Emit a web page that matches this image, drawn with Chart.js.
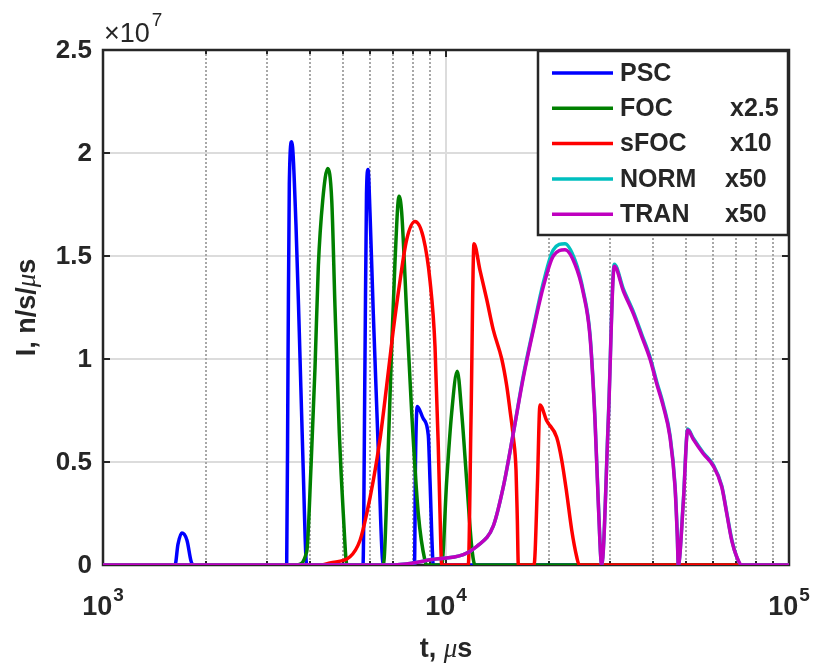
<!DOCTYPE html>
<html>
<head>
<meta charset="utf-8">
<script src="https://cdn.jsdelivr.net/npm/chart.js@4.4.1/dist/chart.umd.min.js"></script>
<style>
  body { margin: 0; background: #fff; }
  canvas { display: block; }
</style>
</head>
<body>
<canvas id="chart" width="817" height="666"></canvas>
<script>
// ===== Data (t in microseconds, I in n/s/us) =====
const seriesNames = ["PSC", "FOC", "sFOC", "NORM", "TRAN"];
const seriesScale = ["", "x2.5", "x10", "x50", "x50"];

const pscT = [1000, 1622, 1654, 1698, 1757, 1805, 1830, 3432, 3463, 3493, 3549, 3653, 3735, 3829, 3926,
  5728, 5805, 5864, 5924, 6004, 6138, 6344, 6564, 8094, 8148, 8247, 8586, 8879, 8982, 9146, 9180, 100000];
const pscI = [0, 0, 0.10e7, 0.155e7, 0.12e7, 0.02e7, 0, 0, 1.0e7, 1.85e7, 2.055e7, 1.65e7, 1.13e7, 0.5e7, 0,
  0, 1.0e7, 1.8e7, 1.92e7, 1.71e7, 1.22e7, 0.57e7, 0, 0, 0.5e7, 0.77e7, 0.71e7, 0.63e7, 0.41e7, 0.03e7, 0, 0];

const focT = [1000, 3670, 3926, 4041, 4151, 4244, 4371, 4520, 4644, 4747, 4886, 5018, 5145,
  6564, 6788, 6944, 7100, 7295, 7427, 7681, 7943, 8302, 8685, 8803,
  9716, 10047, 10389, 10787, 11110, 11490, 11882, 12146, 100000];
const focI = [0, 0, 0.065e7, 0.48e7, 0.96e7, 1.45e7, 1.77e7, 1.925e7, 1.77e7, 1.25e7, 0.64e7, 0.25e7, 0,
  0, 0.57e7, 1.06e7, 1.47e7, 1.79e7, 1.71e7, 1.22e7, 0.74e7, 0.25e7, 0.02e7, 0,
  0, 0.41e7, 0.74e7, 0.94e7, 0.74e7, 0.41e7, 0.09e7, 0, 0];

const sfocT = [1000, 4350, 4590, 5250, 5616, 5873, 6138, 6420, 6715, 7019, 7344, 7681, 8120, 8586, 8982, 9289, 9497, 9606, 9716,
  11614, 11826, 12067, 12564, 13142, 13742, 14540, 15032, 15370, 15713, 16001, 16142, 16251,
  18059, 18463, 18793, 19662, 21021, 21741, 22484, 23253, 24044, 24468, 100000];
const sfocI = [0, 0, 0.01e7, 0.04e7, 0.12e7, 0.25e7, 0.41e7, 0.61e7, 0.87e7, 1.14e7, 1.38e7, 1.58e7, 1.667e7, 1.59e7, 1.38e7, 1.06e7, 0.57e7, 0.25e7, 0,
  0, 0.70e7, 1.56e7, 1.43e7, 1.29e7, 1.14e7, 1.0e7, 0.87e7, 0.75e7, 0.62e7, 0.46e7, 0.22e7, 0,
  0, 0.38e7, 0.777e7, 0.70e7, 0.62e7, 0.51e7, 0.35e7, 0.17e7, 0.04e7, 0, 0];

// NORM and TRAN share the same time samples
const normTranT = [1000, 6866, 8030, 8982, 11233, 12290, 13742, 14695, 15713, 16807,
  17972, 19216, 20549, 22234, 23773, 25136, 26292, 27190, 27797, 28439,
  29730, 30953, 32885, 35165, 37206, 39332, 41140, 43000, 44985, 46514,
  47238, 47564, 49180, 50663, 52602, 56247, 60168, 63659, 65834, 68070,
  70395, 72800, 100000];
const normI = [0, 0, 0.01e7, 0.025e7, 0.05e7, 0.09e7, 0.19e7, 0.38e7, 0.64e7, 0.92e7,
  1.15e7, 1.37e7, 1.53e7, 1.56e7, 1.48e7, 1.33e7, 1.12e7, 0.71e7, 0.31e7, 0,
  0.71e7, 1.46e7, 1.34e7, 1.23e7, 1.12e7, 1.01e7, 0.89e7, 0.78e7, 0.63e7, 0.39e7,
  0.15e7, 0, 0.31e7, 0.66e7, 0.615e7, 0.545e7, 0.485e7, 0.385e7, 0.255e7, 0.125e7,
  0.04e7, 0, 0];
const tranI = [0, 0, 0.01e7, 0.025e7, 0.05e7, 0.09e7, 0.19e7, 0.38e7, 0.64e7, 0.91e7,
  1.14e7, 1.35e7, 1.50e7, 1.53e7, 1.46e7, 1.32e7, 1.11e7, 0.70e7, 0.30e7, 0,
  0.70e7, 1.45e7, 1.33e7, 1.22e7, 1.11e7, 1.0e7, 0.88e7, 0.77e7, 0.62e7, 0.38e7,
  0.14e7, 0, 0.30e7, 0.655e7, 0.61e7, 0.54e7, 0.48e7, 0.38e7, 0.25e7, 0.12e7,
  0.04e7, 0, 0];

// Axis ticks
const yTicks = [0, 0.5e7, 1e7, 1.5e7, 2e7, 2.5e7];
const yTickLabels = ["0", "0.5", "1", "1.5", "2", "2.5"];
const xMajorTicks = [1e3, 1e4, 1e5];
const xTickExps = ["3", "4", "5"];

// ===== Helpers =====
const TEXT = "#262626";
const SANS = '"Liberation Sans", Arial, sans-serif';

function pts(ts, vs) {
  return ts.map((t, i) => ({ x: t, y: vs[i] }));
}

function seg(ctx, x1, y1, x2, y2) {
  ctx.beginPath();
  ctx.moveTo(x1, y1);
  ctx.lineTo(x2, y2);
  ctx.stroke();
}

// draw a run of text pieces with different fonts, centred on cx
function drawRun(ctx, pieces, cx, cy) {
  let w = 0;
  pieces.forEach(p => { ctx.font = p.font; w += ctx.measureText(p.text).width; });
  let x = cx - w / 2;
  ctx.textAlign = "left";
  ctx.textBaseline = "middle";
  pieces.forEach(p => {
    ctx.font = p.font;
    ctx.fillText(p.text, x, cy);
    x += ctx.measureText(p.text).width;
  });
}

function minorTicks() {
  const out = [];
  [1e3, 1e4].forEach(d => { for (let k = 2; k <= 9; k++) out.push(k * d); });
  return out;
}

// ===== Axes, grid, labels and legend =====
const frame = {
  id: "frame",
  beforeDatasetsDraw(chart) {
    const { ctx, chartArea: a, scales: { x, y } } = chart;
    ctx.save();

    // horizontal grid
    ctx.strokeStyle = "#dcdcdc";
    ctx.lineWidth = 2;
    yTicks.forEach(v => {
      const py = Math.round(y.getPixelForValue(v));
      if (py > a.top + 2 && py < a.bottom - 2) seg(ctx, a.left, py, a.right, py);
    });
    // major vertical grid
    xMajorTicks.forEach(v => {
      const px = Math.round(x.getPixelForValue(v));
      if (px > a.left + 2 && px < a.right - 2) seg(ctx, px, a.top, px, a.bottom);
    });
    // minor vertical grid, dotted
    ctx.strokeStyle = "#a8a8a8";
    ctx.lineWidth = 2;
    ctx.setLineDash([2, 2]);
    minorTicks().forEach(v => {
      const px = Math.round(x.getPixelForValue(v));
      seg(ctx, px, a.top, px, a.bottom);
    });
    ctx.setLineDash([]);

    // box
    ctx.strokeStyle = TEXT;
    ctx.lineWidth = 2.5;
    ctx.strokeRect(a.left, a.top, a.right - a.left, a.bottom - a.top);

    // ticks (inward, on all four sides)
    ctx.lineWidth = 2;
    yTicks.forEach(v => {
      const py = Math.round(y.getPixelForValue(v));
      seg(ctx, a.left, py, a.left + 7, py);
      seg(ctx, a.right - 7, py, a.right, py);
    });
    xMajorTicks.forEach(v => {
      const px = Math.round(x.getPixelForValue(v));
      seg(ctx, px, a.bottom, px, a.bottom - 7);
      seg(ctx, px, a.top, px, a.top + 7);
    });
    minorTicks().forEach(v => {
      const px = Math.round(x.getPixelForValue(v));
      seg(ctx, px, a.bottom, px, a.bottom - 4);
      seg(ctx, px, a.top, px, a.top + 4);
    });

    // y tick labels
    ctx.fillStyle = TEXT;
    ctx.font = "bold 26px " + SANS;
    ctx.textAlign = "right";
    ctx.textBaseline = "middle";
    yTicks.forEach((v, i) => ctx.fillText(yTickLabels[i], a.left - 11, y.getPixelForValue(v) + 1));

    // x tick labels: 10^n
    xMajorTicks.forEach((v, i) => {
      const px = x.getPixelForValue(v);
      ctx.font = "bold 27px " + SANS;
      const wb = ctx.measureText("10").width;
      ctx.font = "bold 19px " + SANS;
      const we = ctx.measureText(xTickExps[i]).width;
      const left = px - (wb + we + 1) / 2;
      ctx.textAlign = "left";
      ctx.textBaseline = "alphabetic";
      ctx.font = "bold 27px " + SANS;
      ctx.fillText("10", left, 615);
      ctx.font = "bold 19px " + SANS;
      ctx.fillText(xTickExps[i], left + wb + 1, 601);
    });

    // exponent label above the y axis
    ctx.font = "27px " + SANS;
    ctx.textAlign = "left";
    ctx.textBaseline = "alphabetic";
    ctx.fillText("\u00d710", a.left + 1, 42);
    const wx = ctx.measureText("\u00d710").width;
    ctx.font = "19px " + SANS;
    ctx.fillText("7", a.left + 3 + wx, 26);

    // axis titles
    const bold = "bold 27px " + SANS;
    const mu = 'italic 27px "Liberation Serif", serif';
    drawRun(ctx, [
      { text: "t, ", font: bold }, { text: "\u03bc", font: mu }, { text: "s", font: bold }
    ], (a.left + a.right) / 2, 650);

    ctx.translate(28, (a.top + a.bottom) / 2);
    ctx.rotate(-Math.PI / 2);
    drawRun(ctx, [
      { text: "I, n/s/", font: bold }, { text: "\u03bc", font: mu }, { text: "s", font: bold }
    ], 0, 0);
    ctx.restore();
  },
  afterDatasetsDraw(chart) {
    const { ctx, chartArea: a } = chart;
    ctx.save();
    // legend box
    const bx = 538, by = a.top + 1, bw = a.right - bx - 1, bh = 184;
    ctx.fillStyle = "#fff";
    ctx.fillRect(bx, by, bw, bh);
    ctx.strokeStyle = TEXT;
    ctx.lineWidth = 2.5;
    ctx.strokeRect(bx, by, bw, bh);

    const scaleX = [0, 730, 730, 725, 725];
    chart.data.datasets.forEach((ds, i) => {
      const ry = 73 + i * 35.3;
      ctx.strokeStyle = ds.borderColor;
      ctx.lineWidth = 3.5;
      seg(ctx, 552, ry, 613, ry);
      ctx.fillStyle = TEXT;
      ctx.font = "bold 25px " + SANS;
      ctx.textAlign = "left";
      ctx.textBaseline = "middle";
      ctx.fillText(ds.label, 620, ry + 1);
      if (seriesScale[i]) ctx.fillText(seriesScale[i], scaleX[i], ry + 1);
    });
    ctx.restore();
  }
};

// ===== Chart =====
const colors = ["#0000ff", "#008000", "#ff0000", "#00bfbf", "#bf00bf"];
const seriesData = [pts(pscT, pscI), pts(focT, focI), pts(sfocT, sfocI), pts(normTranT, normI), pts(normTranT, tranI)];

new Chart(document.getElementById("chart"), {
  type: "line",
  data: {
    datasets: seriesNames.map((name, i) => ({
      label: name,
      data: seriesData[i],
      borderColor: colors[i],
      backgroundColor: colors[i],
      borderWidth: 3.5,
      pointRadius: 0,
      fill: false,
      cubicInterpolationMode: "monotone",
      order: seriesNames.length - i   // later series drawn on top
    }))
  },
  options: {
    responsive: false,
    animation: false,
    devicePixelRatio: 1,
    layout: { padding: { left: 103, right: 28, top: 50, bottom: 101 } },
    scales: {
      x: { type: "logarithmic", min: 1e3, max: 1e5, display: false },
      y: { type: "linear", min: 0, max: 2.5e7, display: false }
    },
    plugins: {
      legend: { display: false },
      tooltip: { enabled: false }
    }
  },
  plugins: [frame]
});
</script>
</body>
</html>
